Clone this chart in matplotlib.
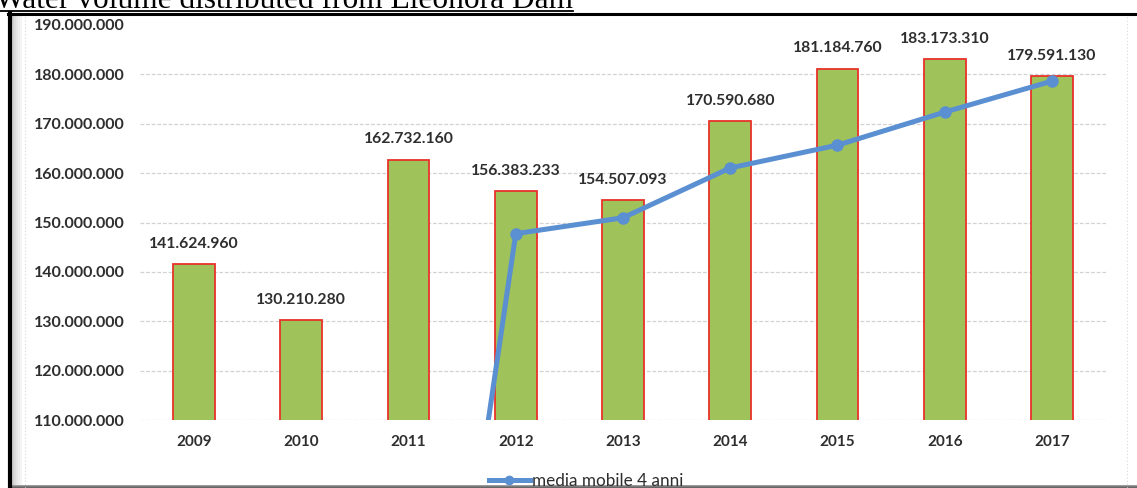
import matplotlib
matplotlib.use("Agg")
import matplotlib.pyplot as plt
from matplotlib.lines import Line2D
from matplotlib.patches import Rectangle
import numpy as np

# ---- data -------------------------------------------------------------
years = ["2009", "2010", "2011", "2012", "2013", "2014", "2015", "2016", "2017"]
volumes = [141624960, 130210280, 162732160, 156383233, 154507093,
           170590680, 181184760, 183173310, 179591130]
# 4-year moving average (the 2011 point sits at zero, below the axis floor)
moving_avg = [np.nan, np.nan, 0, 147737658, 150958192,
              161053292, 165666442, 172363961, 178634970]
y_ticks = [110000000, 120000000, 130000000, 140000000, 150000000,
           160000000, 170000000, 180000000, 190000000]
title = "Water volume distributed from Eleonora Dam"
legend_label = "media mobile 4 anni"

W, H = 1137, 488
fig = plt.figure(figsize=(W / 100, H / 100), dpi=100)
fig.patch.set_facecolor("white")


def fx(px):
    return px / W


def fy(py):
    return 1 - py / H


def fmt(v):
    return f"{int(round(v)):,}".replace(",", ".")


TEXT = "#2e2e2e"

# ---- axes -------------------------------------------------------------
ax_l, ax_r, ax_t, ax_b = 140.4, 1105.6, 25, 420
ax = fig.add_axes([fx(ax_l), fy(ax_b), fx(ax_r - ax_l), (ax_b - ax_t) / H])
ax.set_facecolor("none")
x = np.arange(len(years))

ax.bar(x, volumes, width=0.39, color="#9fc25a", edgecolor="#e8322a",
       linewidth=1.3, zorder=2)
ax.plot(x, moving_avg, color="#5a8fd2", linewidth=3.6, marker="o",
        markersize=8, zorder=3, solid_capstyle="round",
        label=legend_label)

label_font = dict(family="Lato", weight="bold", size=11.3, color=TEXT)
for xi, v in zip(x, volumes):
    ax.annotate(fmt(v), (xi, v), xytext=(0, 14.5), textcoords="offset points",
                ha="center", va="center", annotation_clip=False, **label_font)

ax.set_xlim(-0.5, len(years) - 0.5)
ax.set_ylim(y_ticks[0], y_ticks[-1])
ax.set_yticks(y_ticks)
ax.set_yticklabels([fmt(t) for t in y_ticks])
ax.set_xticks(x)
ax.set_xticklabels(years)
for lab in ax.get_yticklabels():
    lab.set_fontfamily("Lato")
    lab.set_fontweight("bold")
    lab.set_fontsize(11.5)
    lab.set_color(TEXT)
for lab in ax.get_xticklabels():
    lab.set_fontfamily("Lato")
    lab.set_fontweight("bold")
    lab.set_fontsize(11)
    lab.set_color(TEXT)
ax.tick_params(axis="y", length=0, pad=11)
ax.tick_params(axis="x", length=0, pad=11)
for s in ax.spines.values():
    s.set_visible(False)
for t in y_ticks[:-1]:
    ax.axhline(t, color="#d2d2d2", linewidth=0.9, linestyle=(0, (3, 1.5)),
               zorder=1)

leg = fig.legend(handles=[Line2D([], [], color="#5a8fd2", linewidth=3.6,
                                 marker="o", markersize=6)],
                 labels=[legend_label], loc="center",
                 bbox_to_anchor=(fx(586), fy(481)), frameon=False,
                 handlelength=2.4, handletextpad=0.12,
                 prop=dict(family="Lato", size=12.3))
for t in leg.get_texts():
    t.set_color(TEXT)

# ---- surrounding frame ------------------------------------------------
frame_kw = dict(transform=fig.transFigure, figure=fig)
# left shadow band inside the frame
for i, g in enumerate(["#cfcfcf", "#dcdcdc", "#e6e6e6", "#eeeeee", "#f4f4f4"]):
    fig.patches.append(Rectangle((fx(12 + 2 * i), 0), fx(2), fy(15),
                                 facecolor=g, edgecolor="none", **frame_kw))
# dotted chart-area border
fig.lines.append(Line2D([fx(25), fx(25)], [0, fy(16)], color="#d8d8d8",
                        linewidth=0.8, linestyle=(0, (1, 2)), **frame_kw))
fig.lines.append(Line2D([fx(1127), fx(1127)], [0, fy(16)], color="#d8d8d8",
                        linewidth=0.8, linestyle=(0, (1, 2)), **frame_kw))
# bottom shadow bar
for i, g in enumerate(["#9a9a9a", "#7a7a7a", "#666666", "#5a5a5a"]):
    fig.patches.append(Rectangle((fx(8), fy(485 + i) - 1 / H), 1, 1 / H,
                                 facecolor=g, edgecolor="none", **frame_kw))
# black frame: top and left edges
fig.lines.append(Line2D([fx(8), 1], [fy(13.8), fy(13.8)], color="black",
                        linewidth=2.2, **frame_kw))
fig.lines.append(Line2D([fx(10), fx(10)], [fy(13), 0], color="black",
                        linewidth=3.0, **frame_kw))

# ---- underlined title, partly above the canvas --------------------------
ttl = fig.text(fx(573), fy(8.5), title, ha="right", va="baseline",
               family="Liberation Serif", fontsize=22.6, color="black")
fig.canvas.draw()
bb = ttl.get_window_extent()
fig.lines.append(Line2D([max(bb.x0, 0) / W, bb.x1 / W], [fy(11), fy(11)],
                        color="black", linewidth=1.3, **frame_kw))

fig.savefig("out.png", dpi=100, facecolor="white")
